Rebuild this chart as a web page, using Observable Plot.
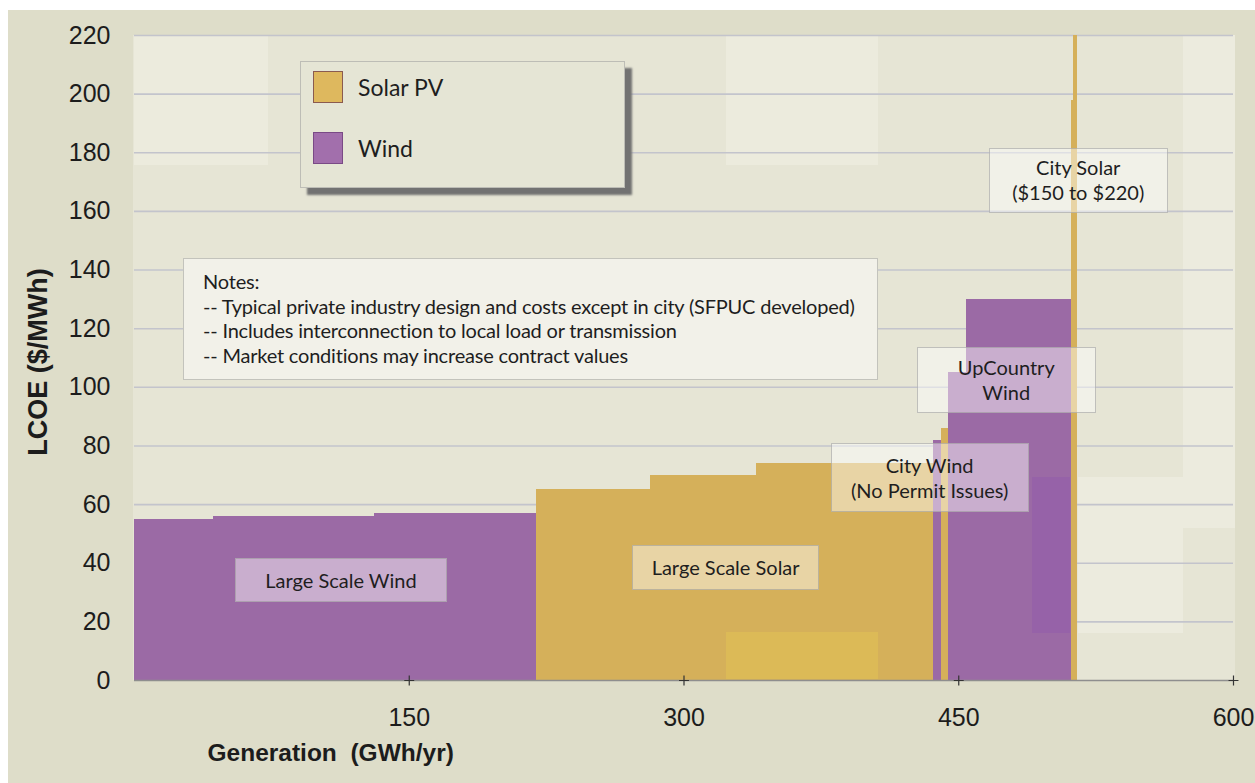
<!DOCTYPE html>
<html>
<head>
<meta charset="utf-8">
<script src="https://cdn.jsdelivr.net/npm/d3@7"></script>
<script src="https://cdn.jsdelivr.net/npm/@observablehq/plot@0.6"></script>
<style>
  html, body { margin: 0; padding: 0; background: #ffffff; }
  body { width: 1255px; height: 783px; overflow: hidden; position: relative; font-family: Lato, "Open Sans", sans-serif; color: #1e1e1e; }
  .layer { position: absolute; }
  #sheet { left: 8px; top: 10px; width: 1247px; height: 773px; background: #DEDDC9; }
  #panel { left: 133px; top: 35px; width: 1102px; height: 645px; background: #E6E5D5; }
  .tile { position: absolute; }
  #chart { left: 0; top: 0; }
  #overlay { left: 0; top: 0; width: 1255px; height: 783px; pointer-events: none; }
  .legend { position: absolute; left: 300px; top: 61px; width: 325px; height: 127px; background: #E5E5D5;
            border: 1.5px solid #BDBDB6; box-sizing: border-box; box-shadow: 7px 7px 2px #727272; }
  .legend .item { position: absolute; left: 12px; display: flex; align-items: center; font-size: 23px; }
  .legend .swatch { width: 30px; height: 32px; box-sizing: border-box; margin-right: 15px; }
  .notes { position: absolute; left: 183px; top: 258px; width: 695px; height: 122px; background: #F2F1E9;
           border: 1.5px solid #C3C3BC; box-sizing: border-box; padding: 10px 0 0 19px; font-size: 20px; line-height: 24.6px;
           letter-spacing: -0.2px; white-space: nowrap; }
  .tag { position: absolute; box-sizing: border-box; background: rgba(255,255,255,0.46); border: 1.5px solid rgba(150,150,150,0.55);
         display: flex; align-items: center; justify-content: center; text-align: center; font-size: 20px; line-height: 25px; white-space: pre; }
</style>
</head>
<body>
<div id="sheet" class="layer"></div>
<div id="panel" class="layer"></div>
<div id="chart" class="layer"></div>
<div id="overlay" class="layer"></div>
<script>
// Supply curve of renewable resource blocks, in order of increasing cost
const resource = ["Large Scale Wind", "Large Scale Wind", "Large Scale Wind",
                  "Large Scale Solar", "Large Scale Solar", "Large Scale Solar",
                  "City Wind", "City Solar", "UpCountry Wind", "UpCountry Wind",
                  "City Solar", "City Solar"];
const technology = ["Wind", "Wind", "Wind", "Solar PV", "Solar PV", "Solar PV",
                    "Wind", "Solar PV", "Wind", "Wind", "Solar PV", "Solar PV"];
// Annual generation of each block (GWh/yr)
const generation = [43, 88, 88.5, 62, 58, 96.5, 4.5, 4, 10, 57, 1.2, 2.2];
// Levelized cost of each block ($/MWh)
const lcoe = [55, 56, 57, 65, 70, 74, 82, 86, 105, 130, 198, 220];

const seriesNames = ["Solar PV", "Wind"];
const seriesColors = ["#D5B05A", "#9B6AA5"];
const seriesEdges = ["#8A5A50", "#7A4A86"];

const yTicks = [0, 20, 40, 60, 80, 100, 120, 140, 160, 180, 200, 220];
const xTicks = [150, 300, 450, 600];
const yTitle = "LCOE ($/MWh)";
const xTitle = "Generation  (GWh/yr)";

const noteLines = [
  "Notes:",
  "-- Typical private industry design and costs except in city (SFPUC developed)",
  "-- Includes interconnection to local load or transmission",
  "-- Market conditions may increase contract values"
];

// Callout boxes: text, anchor in data units (GWh/yr, $/MWh), box size in px
const callouts = [
  {text: "Large Scale Wind", gen: 113, cost: 34, w: 212, h: 44},
  {text: "Large Scale Solar", gen: 323, cost: 38.4, w: 187, h: 45},
  {text: "City Wind\n(No Permit Issues)", gen: 434.4, cost: 69, w: 198, h: 69},
  {text: "UpCountry\nWind", gen: 476.2, cost: 102.3, w: 179, h: 66},
  {text: "City Solar\n($150 to $220)", gen: 515.5, cost: 170.4, w: 179, h: 65}
];

const ends = d3.cumsum(generation);
const blocks = generation.map((g, i) => ({
  resource: resource[i],
  tech: technology[i],
  x1: ends[i] - g,
  x2: ends[i],
  lcoe: lcoe[i]
}));

// thin "+" tick mark
const cross = {
  draw(ctx, size) {
    const r = Math.sqrt(size) / 2;
    ctx.moveTo(-r, 0); ctx.lineTo(r, 0);
    ctx.moveTo(0, -r); ctx.lineTo(0, r);
  }
};

// lighter tiles in the plot background (screen-capture blocks)
const panel = document.getElementById("panel");
[[1, 0, 134, 130, "#ECEBDD"], [593, 0, 152, 130, "#ECEBDD"], [1050, 0, 52, 493, "#ECEBDE"],
 [945, 442, 105, 156, "#ECEBDE"]].forEach(([l, t, w, h, c]) => {
  const d = document.createElement("div");
  d.className = "tile";
  Object.assign(d.style, {left: l + "px", top: t + "px", width: w + "px", height: h + "px", background: c});
  panel.appendChild(d);
});

const chart = Plot.plot({
  width: 1255,
  height: 783,
  marginLeft: 134,
  marginRight: 22,
  marginTop: 35,
  marginBottom: 103,
  style: {background: "transparent", fontFamily: "'Liberation Sans', Arial, sans-serif", color: "#1c1c1c", overflow: "visible"},
  x: {domain: [0, 600]},
  y: {domain: [0, 220]},
  color: {domain: seriesNames, range: seriesColors},
  marks: [
    Plot.gridY(yTicks.filter(d => d > 0), {stroke: "#C3C4CC", strokeOpacity: 1, strokeWidth: 1.6}),
    Plot.rect(blocks, {x1: "x1", x2: "x2", y1: () => 0, y2: "lcoe", fill: "tech", shapeRendering: "crispEdges"}),
    Plot.ruleY([0], {stroke: "#8E8E8E", strokeWidth: 1.5}),
    Plot.dot(xTicks, {x: d => d, frameAnchor: "bottom", symbol: cross, r: 5.6, stroke: "#333", strokeWidth: 1.2, fill: "none"}),
    Plot.axisY(yTicks, {tickSize: 0, tickPadding: 24, fontSize: 25, label: null}),
    Plot.axisX(xTicks, {tickSize: 0, tickPadding: 28, fontSize: 25, label: null}),
    Plot.text([yTitle], {frameAnchor: "left", textAnchor: "middle", dx: -96, dy: 4, rotate: -90, fontSize: 27, fontWeight: "bold"}),
    Plot.text([xTitle], {frameAnchor: "bottom-left", dx: 73, dy: 80, textAnchor: "start", fontSize: 24.5, fontWeight: "bold"})
  ]
});
document.getElementById("chart").appendChild(chart);

const sx = chart.scale("x");
const sy = chart.scale("y");
const overlay = document.getElementById("overlay");

// capture blocks that tint parts of the bars
[[726, 632, 152, 47, "#DCBA57"], [1032, 477, 38, 156, "#9662A8"]].forEach(([l, t, w, h, c]) => {
  const d = document.createElement("div");
  d.className = "tile";
  Object.assign(d.style, {left: l + "px", top: t + "px", width: w + "px", height: h + "px", background: c});
  overlay.appendChild(d);
});

// legend
const legend = document.createElement("div");
legend.className = "legend";
seriesNames.forEach((name, i) => {
  const item = document.createElement("div");
  item.className = "item";
  item.style.top = (9 + i * 61) + "px";
  const sw = document.createElement("div");
  sw.className = "swatch";
  sw.style.background = d3.color(seriesColors[i]).brighter(0.12).formatHex();
  sw.style.border = "1.5px solid " + seriesEdges[i];
  const label = document.createElement("span");
  label.textContent = name;
  item.appendChild(sw);
  item.appendChild(label);
  legend.appendChild(item);
});
overlay.appendChild(legend);

// notes
const notes = document.createElement("div");
notes.className = "notes";
notes.innerHTML = noteLines.map(s => `<div>${s}</div>`).join("");
overlay.appendChild(notes);

// callouts
callouts.forEach(c => {
  const cx = sx.apply(c.gen), cy = sy.apply(c.cost);
  const d = document.createElement("div");
  d.className = "tag";
  Object.assign(d.style, {left: (cx - c.w / 2) + "px", top: (cy - c.h / 2) + "px", width: c.w + "px", height: c.h + "px"});
  d.textContent = c.text;
  overlay.appendChild(d);
});
</script>
</body>
</html>
